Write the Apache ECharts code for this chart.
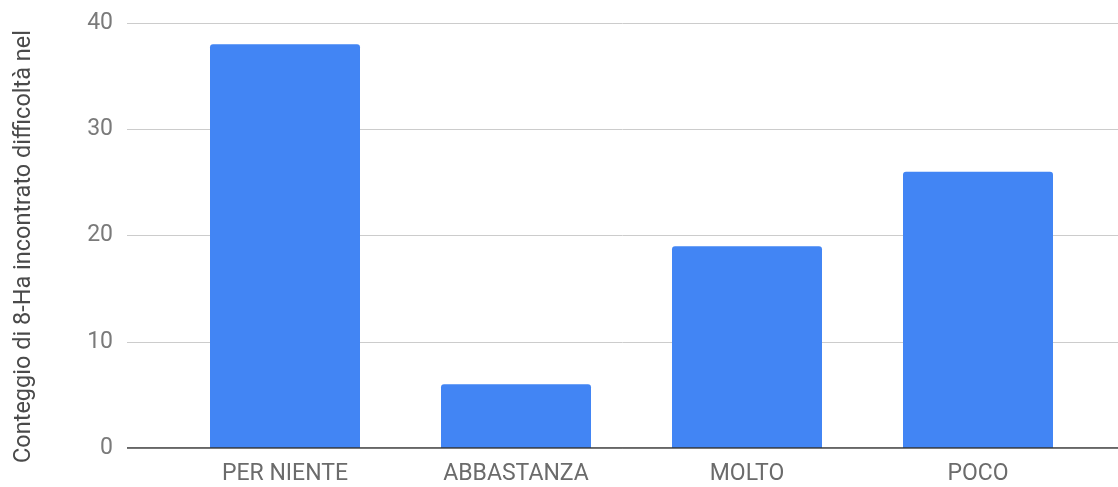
<!DOCTYPE html>
<html>
<head>
<meta charset="utf-8">
<script src="https://cdn.jsdelivr.net/npm/echarts@6/dist/echarts.min.js"></script>
<style>
html,body{margin:0;padding:0;background:#fff;}
#chart{width:1118px;height:487px;}
</style>
</head>
<body>
<div id="chart"></div>
<script>
const categories = ["PER NIENTE", "ABBASTANZA", "MOLTO", "POCO"];
const counts = [38, 6, 19, 26];
const yTicks = [0, 10, 20, 30, 40];
const yAxisTitle = "Conteggio di 8-Ha incontrato difficoltà nel";

const chart = echarts.init(document.getElementById('chart'));
const FONT = 'Roboto, "Noto Sans", sans-serif';
chart.setOption({
  animation: false,
  grid: [
    {left: 127, right: 0, top: 23, bottom: 39, containLabel: false},
    {left: 169.5, right: 24.5, top: 23, bottom: 39, containLabel: false}
  ],
  xAxis: [
    {gridIndex: 0, type: 'value', min: 0, max: 1, axisLine: {show: false}, axisTick: {show: false}, axisLabel: {show: false}, splitLine: {show: false}},
    {gridIndex: 1, type: 'category', data: categories, axisLine: {show: false}, axisTick: {show: false},
     axisLabel: {color: '#6b6b6b', fontSize: 23, fontFamily: FONT, margin: 15}}
  ],
  yAxis: [
    {gridIndex: 0, type: 'value', min: yTicks[0], max: yTicks[yTicks.length-1], interval: 10,
     name: yAxisTitle, nameLocation: 'middle', nameGap: 91, nameRotate: 90,
     nameTextStyle: {color: '#4a4a4a', fontSize: 23.5, fontFamily: FONT, padding: [0, 22, 0, 0]},
     axisLine: {show: false}, axisTick: {show: false},
     axisLabel: {color: '#7a7a7a', fontSize: 23, fontFamily: FONT, margin: 14},
     splitLine: {show: true, lineStyle: {color: '#cccccc', width: 1}}},
    {gridIndex: 1, type: 'value', min: 0, max: 40, interval: 10, show: false}
  ],
  series: [
    {type: 'bar', xAxisIndex: 1, yAxisIndex: 1, data: counts, barWidth: 150,
     itemStyle: {color: '#4285f4', borderRadius: [3, 3, 0, 0]}, z: 2},
    {type: 'line', xAxisIndex: 0, yAxisIndex: 0, data: [[0, 0], [1, 0]], symbol: 'none',
     lineStyle: {color: '#333333', width: 1.5}, z: 5, silent: true}
  ]
});
</script>
</body>
</html>
